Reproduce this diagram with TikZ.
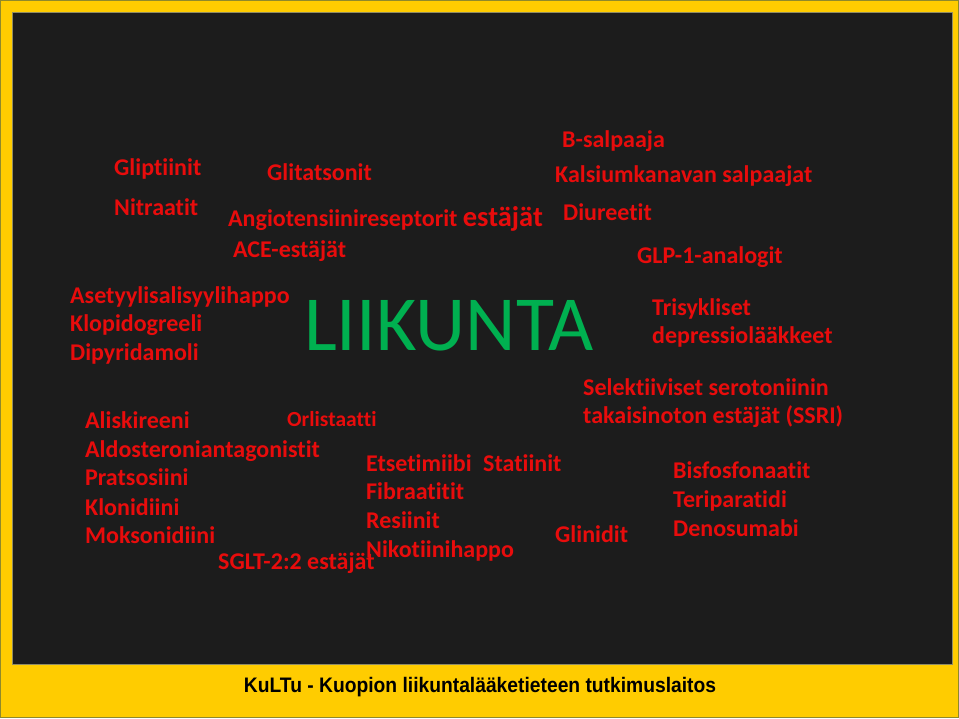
\documentclass[tikz,border=0pt]{standalone}
\usepackage{fontspec}
\newfontfamily\calibri[Ligatures={NoCommon}]{Carlito}
\newfontfamily\arialf{Liberation Sans}
\definecolor{kulta}{RGB}{255,204,0}
\definecolor{tausta}{RGB}{28,28,28}
\definecolor{punainen}{RGB}{232,12,12}
\definecolor{vihrea}{RGB}{0,176,80}
\tikzset{
	laake/.style={anchor=base west,inner sep=0,text=punainen,font=\calibri\bfseries\fontsize{24}{28}\selectfont},
	pieni/.style={laake,font=\calibri\bfseries\fontsize{21.5}{25}\selectfont}
}
\begin{document}
\begin{tikzpicture}[x=1pt,y=-1pt]
		\fill[kulta] (0,0) rectangle (959,718);
		\draw[olive!70!gray,line width=1pt] (0.5,0.5) rectangle (958.5,717.5);
		\fill[tausta] (12,12) rectangle (952,664);
		\draw[gray!70!olive,line width=0.7pt] (12,12) rectangle (952,664);
		\useasboundingbox (0,0) rectangle (959,718);
		% ylaosa
		\node[laake] (gliptiinit) at (114,175) {Gliptiinit};
		\node[laake] (glitatsonit) at (267,180) {Glitatsonit};
		\node[laake] (nitraatit) at (114,215) {Nitraatit};
		\node[laake] (angiotensiini) at (228,226) {Angiotensiinireseptorit {\fontsize{28.5}{32}\selectfont estäjät}};
		\node[laake] (ace) at (233,257) {ACE-estäjät};
		\foreach \x / \y / \t [count=\i] in {562/147/B-salpaaja,555/182/Kalsiumkanavan salpaajat,563/220/Diureetit,637/263/GLP-1-analogit} \node[laake] (oikea\i) at (\x,\y) {\t};
		% vasen reuna
		\foreach \y / \t [count=\i] in {303/Asetyylisalisyylihappo,331/Klopidogreeli,360/Dipyridamoli} \node[laake] (asa\i) at (70,\y) {\t};
		\node[anchor=base west,inner sep=0,text=vihrea,font=\calibri\fontsize{78}{90}\selectfont] (liikunta) at (304,350) {LIIKUNTA};
		\node[laake,align=left] (trisykliset) at (652,343) {Trisykliset\\depressiolääkkeet};
		\node[laake,align=left] (ssri) at (583,423) {Selektiiviset serotoniinin\\takaisinoton estäjät (SSRI)};
		% alaosa
		\foreach \y / \t [count=\i] in {428/Aliskireeni,457/Aldosteroniantagonistit,485/Pratsosiini,515/Klonidiini,543/Moksonidiini} \node[laake] (verenpaine\i) at (85,\y) {\t};
		\node[pieni] (orlistaatti) at (287,426) {Orlistaatti};
		\node[laake] (sglt) at (218,569) {SGLT-2:2 estäjät};
		\foreach \y / \t [count=\i] in {471/Etsetimiibi,499/Fibraatitit,528/Resiinit,557/Nikotiinihappo} \node[laake] (rasva\i) at (366,\y) {\t};
		\node[laake] (statiinit) at (483,471) {Statiinit};
		\node[laake] (glinidit) at (555,542) {Glinidit};
		\foreach \y / \t [count=\i] in {478/Bisfosfonaatit,507/Teriparatidi,536/Denosumabi} \node[laake] (luu\i) at (673,\y) {\t};
		\node[anchor=base,inner sep=0,font=\arialf\bfseries\fontsize{21}{24}\selectfont] (kultu) at (480,692) {\scalebox{0.917}[1]{KuLTu - Kuopion liikuntalääketieteen tutkimuslaitos}};
	\end{tikzpicture}
\end{document}
